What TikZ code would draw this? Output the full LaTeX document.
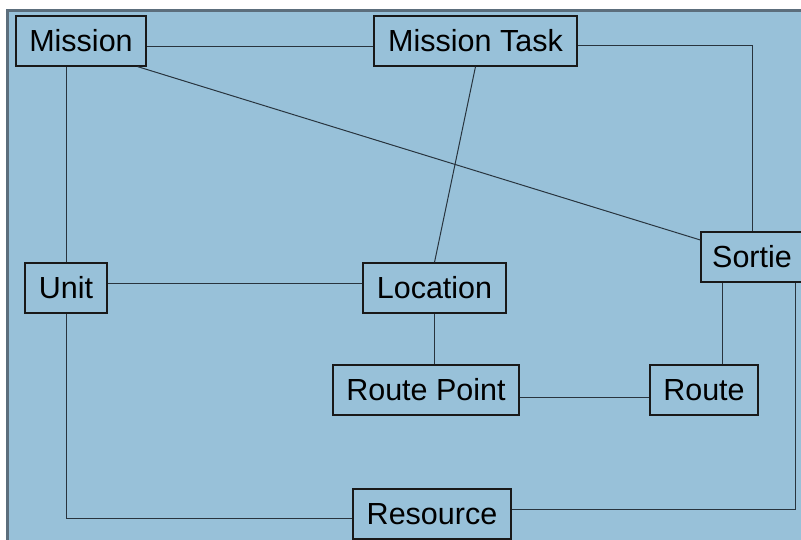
\documentclass[tikz,border=0pt]{standalone}
\usepackage{fontspec}
\setmainfont{Liberation Sans}
\usepackage{tikz}
\usetikzlibrary{positioning,calc}
\definecolor{PanelBlue}{RGB}{152,193,217}
\definecolor{FrameGray}{RGB}{92,110,124}
\definecolor{LinkGray}{RGB}{40,52,62}
\tikzset{
  entitybox/.style={draw=black!90,line width=1.3pt,fill=PanelBlue,inner sep=0pt,
    minimum height=50pt,align=center,font=\fontsize{30.5}{35}\selectfont},
  linkline/.style={draw=LinkGray,line width=1pt},
}

\begin{document}
\begin{tikzpicture}[x=1pt,y=-1pt]
  \clip (0,0) rectangle (801,540);
  % panel behind the entities
  \fill[white] (0,0) rectangle (801,540);
  \draw[draw=FrameGray,fill=PanelBlue,line width=3pt] (7.5,10.5) rectangle (830,570);

  % entities
  \node[entitybox,minimum width=130pt] (mission) at (81,41) {Mission};
  \node[entitybox,minimum width=203pt] (task) at (475.5,41) {Mission Task};
  \node[entitybox,minimum width=102pt] (sortie) at (752,257) {Sortie};
  \node[entitybox,minimum width=82pt] (unit) at (66,288) {Unit};
  \node[entitybox,minimum width=143pt] (location) at (434.5,288) {Location};
  \node[entitybox,minimum width=186pt] (routept) at (426,390) {Route Point};
  \node[entitybox,minimum width=108pt] (route) at (704,390) {Route};
  \node[entitybox,minimum width=158pt] (resource) at (432,514) {Resource};

  % links
  \draw[linkline] ([yshift=-6pt]mission.east) -- ([yshift=-6pt]task.west);
  \draw[linkline] ([xshift=-9pt]mission.south east) -- ([yshift=17pt]sortie.west);
  \draw[linkline] (unit.north) -- (unit.north |- mission.south);
  \draw[linkline] (task.south) -- (location.north);
  \draw[linkline] ([yshift=-5pt]task.east) -| (sortie.north);
  \draw[linkline] ([yshift=4pt]unit.east) -- ([yshift=4pt]location.west);
  \draw[linkline] (location.south) -- (location.south |- routept.north);
  \draw[linkline] ([yshift=-7pt]routept.east) -- ([yshift=-7pt]route.west);
  \draw[linkline] ([xshift=18pt]route.north) -- ([xshift=18pt]route.north |- sortie.south);
  \draw[linkline] ([yshift=-4pt]resource.west) -| (unit.south);
  \draw[linkline] ([yshift=5pt]resource.east) -| ([xshift=43pt]sortie.south);
\end{tikzpicture}
\end{document}
